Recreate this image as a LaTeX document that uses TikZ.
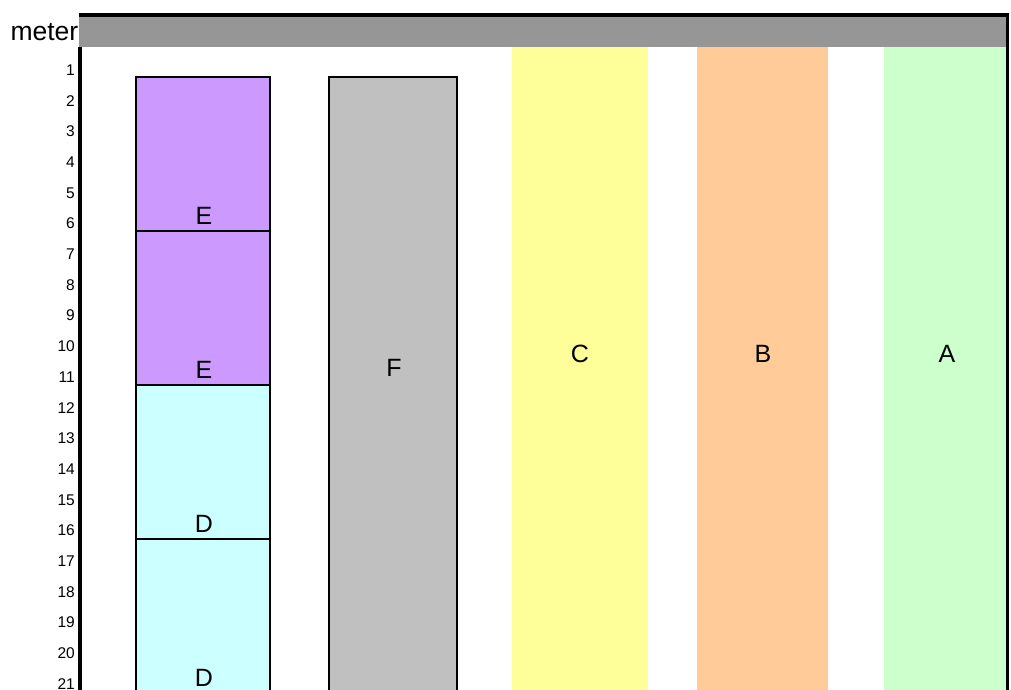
\documentclass[tikz,border=0pt]{standalone}
\usepackage{fontspec}
\setmainfont{Liberation Sans}
\usetikzlibrary{positioning}

\definecolor{bandgray}{HTML}{969696}
\definecolor{layerE}{HTML}{CC99FF}
\definecolor{layerD}{HTML}{CCFFFF}
\definecolor{layerF}{HTML}{C0C0C0}
\definecolor{layerC}{HTML}{FFFF99}
\definecolor{layerB}{HTML}{FFCC99}
\definecolor{layerA}{HTML}{CCFFCC}

\begin{document}
\begin{tikzpicture}[x=1pt, y=-1pt,
    unitbox/.style={draw=black, line width=2.8pt},
    tag/.style={font=\fontsize{25}{25}\selectfont, inner sep=0pt},
    depth/.style={font=\fontsize{15.5}{15.5}\selectfont, anchor=east, inner sep=0pt}]
    \useasboundingbox (0,0) rectangle (1011,690);

    % header band and frame
    \fill[bandgray] (79,15) rectangle (1007,47);
    \draw[line width=3.2pt] (79,15) -- (1007.5,15) -- (1007.5,700);
    \draw[line width=4pt] (79.5,47) -- (79.5,700);
    \node[anchor=east, font=\fontsize{26.5}{26.5}\selectfont, inner sep=0pt] (unit) at (78.5,32) {meter};

    % depth scale, one label per meter
    \foreach \n in {1,...,21}
        \node[depth] (m\n) at (75, {70+(\n-1)*30.7}) {\n};

    % first column: E over D, four units
    \fill[layerE] (136,77) rectangle (270,385);
    \fill[layerD] (136,385) rectangle (270,700);
    \draw[unitbox] (136,700) -- (136,77) -- (270,77) -- (270,700);
    \draw[unitbox] (136,231) -- (270,231);
    \draw[unitbox] (136,385) -- (270,385);
    \draw[unitbox] (136,539) -- (270,539);
    \node[tag, anchor=base] (e1) at (204,224) {E};
    \node[tag, anchor=base] (e2) at (204,378) {E};
    \node[tag, anchor=base] (d1) at (204,532) {D};
    \node[tag, anchor=base] (d2) at (204,686) {D};

    % second column: F
    \fill[layerF] (329,77) rectangle (457,700);
    \draw[unitbox] (329,700) -- (329,77) -- (457,77) -- (457,700);
    \node[tag] (f) at (394,368) {F};

    % open columns, no border
    \fill[layerC] (512,47) rectangle (648,700);
    \node[tag] (c) at (580,354) {C};
    \fill[layerB] (697,47) rectangle (828,700);
    \node[tag] (b) at (763,354) {B};
    \fill[layerA] (884,47) rectangle (1005.5,700);
    \node[tag] (a) at (947,354) {A};
\end{tikzpicture}
\end{document}
